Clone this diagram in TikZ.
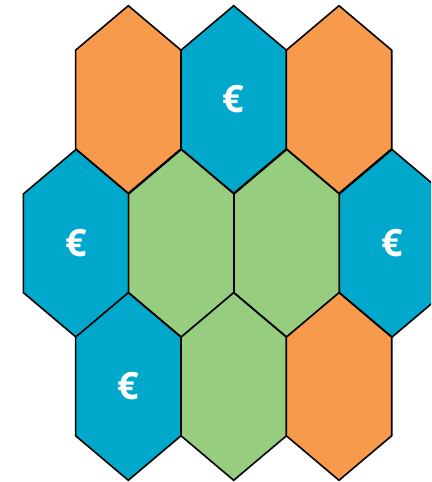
\documentclass[tikz,border=0pt]{standalone}
\usepackage{fontspec}
\setsansfont{Open Sans}
\usepackage{tikz}

\definecolor{hexorange}{HTML}{F79A4B}
\definecolor{hexblue}{HTML}{00A9CB}
\definecolor{hexgreen}{HTML}{97CD7F}

\tikzset{
  hexcell/.pic={
    \path[draw=black,line width=1.6bp,line join=miter,pic actions]
      (0,93.8) -- (52.7,49.3) -- (52.7,-49.3) -- (0,-93.8)
      -- (-52.7,-49.3) -- (-52.7,49.3) -- cycle;
  }
}

\begin{document}
\begin{tikzpicture}[x=1bp,y=1bp]
	\tikzstyle{euro}=[text=white,font=\sffamily\bfseries\fontsize{38}{38}\selectfont,inner sep=0pt]
	\useasboundingbox (0,0) rectangle (431,482);
	\clip (0,0) rectangle (431,482);
	% top row
	\pic[fill=hexorange] at (128.3,382.5) {hexcell};
	\pic[fill=hexblue] at (233.7,382.5) {hexcell};
	\pic[fill=hexorange] at (339.0,382.5) {hexcell};
	% middle row
	\pic[fill=hexblue] at (76.0,238.7) {hexcell};
	\pic[fill=hexgreen] at (181.3,238.7) {hexcell};
	\pic[fill=hexgreen] at (286.7,238.7) {hexcell};
	\pic[fill=hexblue] at (392.0,238.7) {hexcell};
	% bottom row
	\pic[fill=hexblue] at (128.3,95.5) {hexcell};
	\pic[fill=hexgreen] at (233.7,95.5) {hexcell};
	\pic[fill=hexorange] at (339.0,95.5) {hexcell};
	% labels
	\node[euro](e1) at (233.7,382.5) {€};
	\node[euro](e2) at (76.0,238.7) {€};
	\node[euro](e3) at (392.0,238.7) {€};
	\node[euro](e4) at (128.3,95.5) {€};
\end{tikzpicture}
\end{document}
